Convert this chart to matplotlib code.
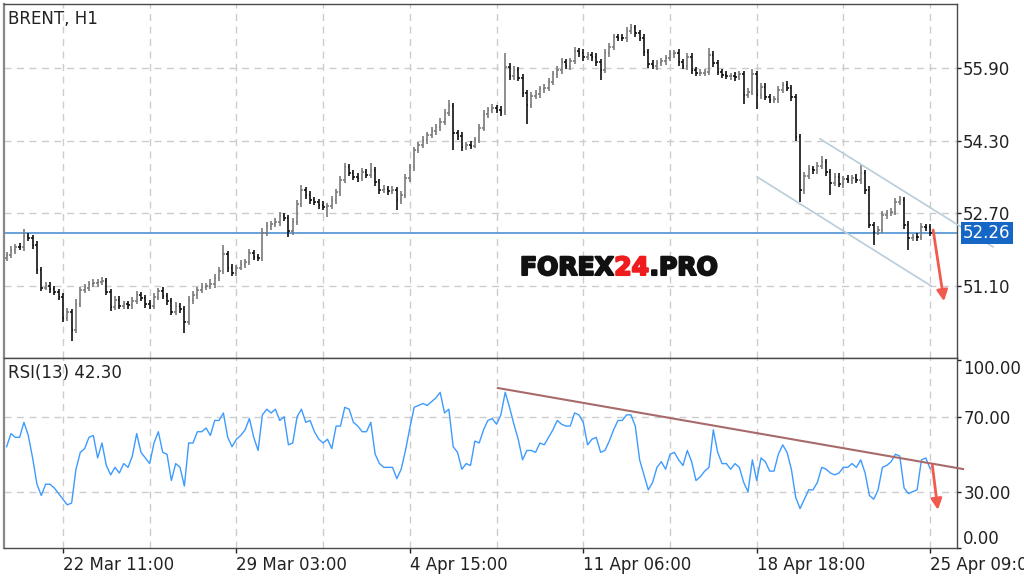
import numpy as np
import matplotlib
matplotlib.use("Agg")
import matplotlib.pyplot as plt
from matplotlib.collections import LineCollection
from matplotlib import patheffects

plt.rcParams['font.family'] = ['DejaVu Sans']

# hourly closes (one bar every ~4.3 px)
closes = [
    51.78, 51.89, 51.96, 51.95, 52.20, 52.16, 52.00, 51.45, 51.06, 51.10,
    51.03, 50.97, 50.86, 50.40, 50.53, 50.13, 50.70, 51.01, 51.06, 51.15,
    51.17, 51.19, 51.21, 50.97, 50.64, 50.79, 50.66, 50.70, 50.68, 50.77,
    50.90, 50.84, 50.70, 50.66, 50.86, 50.99, 50.88, 50.77, 50.53, 50.66,
    50.59, 50.31, 50.79, 50.90, 51.01, 51.08, 51.10, 51.15, 51.28, 51.43,
    51.80, 51.50, 51.39, 51.50, 51.58, 51.63, 51.83, 51.74, 51.72, 52.27,
    52.42, 52.46, 52.51, 52.64, 52.60, 52.31, 52.51, 52.90, 53.21, 53.10,
    52.99, 52.95, 52.88, 52.84, 52.86, 52.99, 53.17, 53.43, 53.72, 53.59,
    53.50, 53.48, 53.61, 53.54, 53.65, 53.39, 53.21, 53.24, 53.19, 53.21,
    52.99, 53.10, 53.48, 53.72, 54.09, 54.20, 54.31, 54.42, 54.51, 54.60,
    54.71, 54.91, 55.06, 54.47, 54.40, 54.16, 54.20, 54.19, 54.31, 54.58,
    54.89, 54.98, 55.02, 54.98, 54.93, 55.92, 55.72, 55.86, 55.68, 55.35,
    55.09, 55.28, 55.33, 55.44, 55.46, 55.59, 55.77, 55.86, 56.03, 55.94,
    56.05, 56.28, 56.23, 56.14, 56.19, 56.14, 56.03, 55.86, 56.23, 56.36,
    56.58, 56.57, 56.56, 56.72, 56.78, 56.67, 56.56, 56.25, 55.99, 55.94,
    56.01, 56.05, 56.12, 56.21, 56.23, 56.03, 55.94, 56.14, 55.86, 55.79,
    55.80, 55.81, 56.19, 56.01, 55.81, 55.75, 55.72, 55.73, 55.70, 55.77,
    55.31, 55.37, 55.77, 55.31, 55.48, 55.26, 55.20, 55.21, 55.42, 55.53,
    55.46, 55.26, 54.38, 53.21, 53.52, 53.68, 53.65, 53.74, 53.83, 53.61,
    53.37, 53.50, 53.35, 53.46, 53.43, 53.48, 53.44, 53.59, 53.21, 52.44,
    52.29, 52.33, 52.66, 52.71, 52.73, 52.95, 52.99, 52.44, 52.16, 52.18,
    52.17, 52.40, 52.39, 52.26,
]
first_open = 51.72

# wick lengths above / below the bar body, in cents
wick_up = [
    7, 8, 6, 9, 15, 7, 6, 8, 7, 9,    8, 6, 7, 9, 8, 7, 10, 7, 8, 6,
    9, 7, 8, 6, 7, 9, 8, 7, 6, 8,     9, 7, 6, 8, 9, 7, 8, 6, 7, 8,
    7, 6, 9, 8, 7, 8, 6, 9, 7, 8,     20, 7, 8, 6, 9, 7, 8, 7, 6, 10,
    8, 7, 9, 8, 6, 7, 8, 9, 11, 7,    8, 6, 7, 9, 7, 8, 7, 9, 8, 7,
    6, 8, 9, 7, 15, 7, 6, 8, 7, 9,    7, 8, 9, 7, 8, 6, 9, 7, 8, 7,
    9, 8, 13, 7, 6, 8, 7, 9, 7, 8,    8, 7, 9, 6, 8, 31, 9, 8, 7, 8,
    7, 9, 8, 7, 9, 8, 7, 8, 9, 7,     8, 9, 7, 8, 6, 7, 8, 7, 9, 8,
    8, 7, 9, 8, 9, 7, 6, 8, 7, 9,     7, 8, 6, 9, 7, 8, 7, 9, 8, 7,
    8, 7, 15, 8, 7, 6, 8, 7, 9, 7,    7, 8, 11, 7, 9, 8, 7, 8, 9, 7,
    8, 7, 6, 7, 9, 8, 7, 9, 13, 7,    7, 8, 9, 7, 8, 7, 9, 17, 7, 8,
    7, 8, 9, 7, 8, 9, 9, 7, 8, 7,     8, 9, 7, 8,
]
wick_dn = [
    8, 7, 9, 6, 8, 7, 9, 8, 7, 6,     9, 7, 8, 9, 7, 24, 8, 7, 6, 8,
    7, 9, 8, 7, 9, 8, 6, 7, 9, 8,     7, 8, 9, 7, 6, 8, 7, 9, 8, 7,
    8, 24, 7, 9, 8, 6, 7, 8, 9, 7,    8, 9, 7, 8, 6, 9, 7, 8, 7, 8,
    7, 8, 6, 9, 7, 13, 8, 7, 6, 8,    9, 7, 8, 6, 22, 7, 9, 8, 7, 8,
    7, 9, 8, 7, 6, 8, 9, 7, 8, 7,     21, 8, 7, 9, 8, 7, 6, 8, 7, 9,
    8, 7, 6, 37, 9, 8, 7, 8, 6, 7,    7, 9, 8, 7, 8, 6, 9, 8, 7, 9,
    42, 8, 7, 9, 8, 7, 6, 8, 9, 7,    8, 7, 9, 8, 7, 8, 9, 22, 7, 8,
    7, 8, 6, 9, 7, 8, 7, 9, 8, 7,     9, 7, 8, 7, 9, 8, 7, 8, 9, 7,
    7, 8, 6, 9, 7, 8, 7, 9, 8, 7,     20, 8, 7, 31, 9, 7, 8, 7, 9, 8,
    7, 8, 9, 26, 8, 7, 9, 8, 7, 9,    26, 7, 8, 9, 7, 8, 7, 9, 8, 7,
    28, 8, 7, 9, 8, 7, 6, 8, 26, 7,   8, 7, 9, 7,
]

rsi = [
    54, 61, 59, 59, 67, 60, 48, 34, 28, 34,  34, 32, 29, 26, 23, 24, 42, 51, 53, 59,
    60, 48, 56, 44, 39, 43, 40, 45, 43, 49,  61, 51, 48, 45, 56, 62, 51, 50, 36, 45,
    43, 33, 56, 56, 62, 62, 64, 60, 68, 68,  72, 59, 54, 58, 60, 63, 69, 59, 52, 71,
    74, 72, 74, 68, 70, 55, 56, 70, 74, 67,  68, 62, 58, 56, 58, 53, 65, 65, 75, 74,
    67, 65, 62, 62, 67, 50, 45, 43, 43, 43,  37, 42, 52, 64, 75, 76, 77, 76, 78, 80,
    83, 72, 74, 54, 51, 42, 45, 44, 57, 56,  63, 68, 69, 66, 71, 83, 75, 66, 58, 47,
    52, 52, 51, 56, 55, 59, 63, 68, 66, 65,  65, 72, 71, 67, 55, 58, 59, 51, 52, 57,
    63, 68, 68, 71, 71, 65, 47, 39, 31, 35,  43, 46, 42, 50, 51, 47, 44, 52, 46, 36,
    38, 41, 43, 63, 51, 45, 45, 42, 45, 43,  35, 30, 47, 36, 48, 46, 41, 41, 50, 55,
    51, 42, 27, 21, 26, 31, 31, 35, 43, 42,  40, 39, 40, 43, 43, 45, 43, 47, 40, 28,
    26, 31, 43, 44, 46, 50, 49, 32, 29, 30,  31, 47, 48, 42.3,
]

grid_idx = [13, 33, 53, 73, 93, 113, 133, 153, 173, 193, 213]
label_idx = [13, 53, 93, 133, 173, 213]
date_labels = ["22 Mar 11:00", "29 Mar 03:00", "4 Apr 15:00",
               "11 Apr 06:00", "18 Apr 18:00", "25 Apr 09:00"]
price_ticks = [51.10, 52.70, 54.30, 55.90]
rsi_ticks = [0, 30, 70, 100]

# drawn trend lines (bar index, value)
channel_upper = ([187.6, 227.5], [54.34, 51.96])
channel_lower = ([173.1, 213.2], [53.50, 51.10])
rsi_trend = ([113.3, 220.6], [85.3, 42.1])
price_arrow = ((213.7, 52.33), (216.2, 50.76))
rsi_arrow = ((213.5, 44.3), (214.8, 20.3))

n = len(closes)
opens = [first_open] + closes[:-1]
highs = [max(o, c) + u / 100 for o, c, u in zip(opens, closes, wick_up)]
lows = [min(o, c) - d / 100 for o, c, d in zip(opens, closes, wick_dn)]
last = closes[-1]

fig = plt.figure(figsize=(10.24, 5.77), dpi=100)
fig.patch.set_facecolor('white')
ax = fig.add_axes([4 / 1024, 1 - 358 / 577, 953 / 1024, 354 / 577])
ax2 = fig.add_axes([4 / 1024, 1 - 548 / 577, 953 / 1024, 190 / 577])

grid_kw = dict(color='#cccccc', lw=1.0, ls=(0, (5, 4)), zorder=0)
txt_col = '#222222'

# ---- price panel
for g in grid_idx:
    ax.axvline(g, **grid_kw)
for p in price_ticks:
    ax.axhline(p, **grid_kw)

segs, cols = [], []
for i in range(n):
    segs.append([(i, lows[i]), (i, highs[i])])
    segs.append([(i - 0.35, opens[i]), (i, opens[i])])
    segs.append([(i, closes[i]), (i + 0.35, closes[i])])
    c = '#7a7a7a' if closes[i] >= opens[i] else '#111111'
    cols += [c] * 3
ax.add_collection(LineCollection(segs, colors=cols, linewidths=1.2, zorder=3))

ax.axhline(last, color='#5b9bd8', lw=1.3, zorder=2)
ax.plot(*channel_upper, color='#b9cdd9', lw=1.2, clip_on=False, zorder=4)
ax.plot(*channel_lower, color='#b9cdd9', lw=1.2, clip_on=False, zorder=4)
ax.annotate('', xy=price_arrow[1], xytext=price_arrow[0],
            arrowprops=dict(arrowstyle='-|>', color='#f25a4f', lw=2,
                            mutation_scale=16, shrinkA=0, shrinkB=0),
            annotation_clip=False, zorder=5)

ax.set_xlim(-0.6, 219.2)
ax.set_ylim(49.51, 57.31)
ax.set_xticks([])
ax.yaxis.tick_right()
ax.set_yticks(price_ticks)
ax.set_yticklabels([f"{v:.2f}" for v in price_ticks])
ax.tick_params(axis='y', length=3, width=1, pad=1.5, labelsize=12, colors=txt_col)

ax.text(0.0045, 0.982, "BRENT, H1", transform=ax.transAxes, ha='left', va='top',
        fontsize=12, color=txt_col)

ax.annotate(f"{last:.2f}", xy=(1, last), xycoords=ax.get_yaxis_transform(),
            xytext=(4.5, 0), textcoords='offset points', ha='left', va='center',
            fontsize=12, color='white', annotation_clip=False, zorder=6,
            bbox=dict(boxstyle='square,pad=0.12', fc='#1666c5', ec='none'))

# ---- RSI panel
for g in grid_idx:
    ax2.axvline(g, **grid_kw)
for r in [30, 70]:
    ax2.axhline(r, **grid_kw)

ax2.plot(np.arange(n), rsi, color='#3d9bff', lw=1.0, zorder=3)
ax2.plot(*rsi_trend, color='#a86a6a', lw=1.5, clip_on=False, zorder=4)
ax2.annotate('', xy=rsi_arrow[1], xytext=rsi_arrow[0],
             arrowprops=dict(arrowstyle='-|>', color='#f25a4f', lw=2,
                             mutation_scale=16, shrinkA=0, shrinkB=0),
             annotation_clip=False, zorder=5)

ax2.set_xlim(-0.6, 219.2)
ax2.set_ylim(0, 101.3)
ax2.yaxis.tick_right()
ax2.set_yticks(rsi_ticks)
ax2.set_yticklabels(['', '30.00', '70.00', ''])
ax2.tick_params(axis='y', length=3, width=1, pad=1.5, labelsize=12, colors=txt_col)
for val, va in [(100, 'top'), (0, 'bottom')]:
    ax2.annotate(f"{val:.2f}", xy=(1, val), xycoords=ax2.get_yaxis_transform(),
                 xytext=(4.5, 0), textcoords='offset points', ha='left', va=va,
                 fontsize=12, color=txt_col, annotation_clip=False)

ax2.set_xticks(label_idx)
ax2.set_xticklabels(date_labels, ha='left')
ax2.tick_params(axis='x', length=3.5, width=1, pad=2, labelsize=12, colors=txt_col)

ax2.text(0.0045, 0.968, "RSI(13) 42.30", transform=ax2.transAxes, ha='left', va='top',
         fontsize=12, color=txt_col)

for a in (ax, ax2):
    for s in a.spines.values():
        s.set_color('#4a4a4a')
        s.set_linewidth(1.0)
    a.spines['left'].set_color('#888888')
    a.spines['left'].set_linewidth(1.6)

# watermark
renderer = fig.canvas.get_renderer()
xpos = 520
for txt, col in [("FOREX", '#111111'), ("24", '#ee1c1c'), (".PRO", '#111111')]:
    t = fig.text(xpos / 1024, 1 - 268 / 577, txt, color=col, fontsize=18,
                 fontweight='bold', family='DejaVu Sans', ha='left', va='center',
                 path_effects=[patheffects.withStroke(linewidth=1.5, foreground=col)])
    bb = t.get_window_extent(renderer)
    xpos = bb.x1 + 0.5

fig.savefig("out.png", dpi=100)
